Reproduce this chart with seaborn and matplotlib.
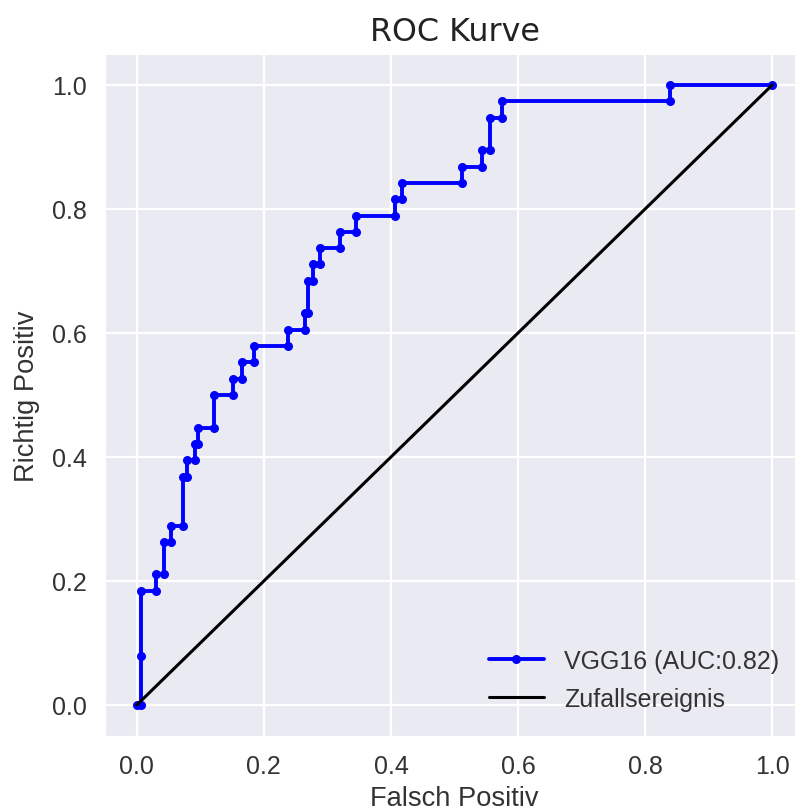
import matplotlib
matplotlib.use("Agg")
import matplotlib.pyplot as plt
import seaborn as sns
import pandas as pd

# ROC operating points of the classifier (false positive rate, true positive rate)
fpr = [0.0, 0.007, 0.007, 0.007, 0.030, 0.030, 0.0425, 0.0425, 0.0535, 0.0535,
       0.073, 0.073, 0.079, 0.079, 0.092, 0.092, 0.097, 0.097, 0.121, 0.121,
       0.152, 0.152, 0.165, 0.165, 0.184, 0.184, 0.238, 0.238, 0.265, 0.265,
       0.270, 0.270, 0.277, 0.277, 0.288, 0.288, 0.320, 0.320, 0.345, 0.345,
       0.406, 0.406, 0.418, 0.418, 0.512, 0.512, 0.544, 0.544, 0.556, 0.556,
       0.574, 0.574, 0.839, 0.839, 1.0]
tpr = [0.0, 0.0, 0.079, 0.184, 0.184, 0.211, 0.211, 0.263, 0.263, 0.289,
       0.289, 0.368, 0.368, 0.395, 0.395, 0.421, 0.421, 0.447, 0.447, 0.500,
       0.500, 0.526, 0.526, 0.553, 0.553, 0.579, 0.579, 0.605, 0.605, 0.632,
       0.632, 0.684, 0.684, 0.711, 0.711, 0.737, 0.737, 0.763, 0.763, 0.789,
       0.789, 0.816, 0.816, 0.842, 0.842, 0.868, 0.868, 0.895, 0.895, 0.947,
       0.947, 0.974, 0.974, 1.0, 1.0]
model_label = "VGG16 (AUC:0.82)"
chance_label = "Zufallsereignis"
chance_x = [0.0, 1.0]
chance_y = [0.0, 1.0]
ticks = [0.0, 0.2, 0.4, 0.6, 0.8, 1.0]

sns.set_style("darkgrid")
plt.rcParams["font.family"] = ["Liberation Sans", "DejaVu Sans"]
plt.rcParams["grid.linewidth"] = 1.6

fig = plt.figure(figsize=(7.95, 8.12), dpi=100)
ax = fig.add_axes([0.1321, 0.0924, 0.8792, 0.8399])

roc = pd.DataFrame({"fpr": fpr, "tpr": tpr})
sns.lineplot(data=roc, x="fpr", y="tpr", sort=False, estimator=None,
             color="#0000ff", linewidth=2.8, marker="o", markersize=6.5,
             markeredgewidth=0, label=model_label, ax=ax)
sns.lineplot(x=chance_x, y=chance_y, sort=False, estimator=None,
             color="black", linewidth=2.2, label=chance_label, ax=ax)

ax.set_xlim(-0.05, 1.05)
ax.set_ylim(-0.05, 1.05)
ax.set_xticks(ticks)
ax.set_yticks(ticks)
ax.set_xticklabels([f"{t:.1f}" for t in ticks])
ax.set_yticklabels([f"{t:.1f}" for t in ticks])
ax.tick_params(axis="both", labelsize=18, pad=13, length=0, labelcolor="#333333")

ax.set_xlabel("Falsch Positiv", fontsize=19.6, labelpad=5, color="#333333")
ax.set_ylabel("Richtig Positiv", fontsize=19.6, labelpad=9, color="#333333")
ax.set_title("ROC Kurve", fontsize=22.9, pad=10, family="DejaVu Sans", color="#222222")

leg = ax.legend(loc="lower right", fontsize=18, frameon=False,
                handlelength=2.2, borderaxespad=0.6, labelspacing=0.55)
for t in leg.get_texts():
    t.set_color("#333333")

fig.savefig("out.png", dpi=100)
